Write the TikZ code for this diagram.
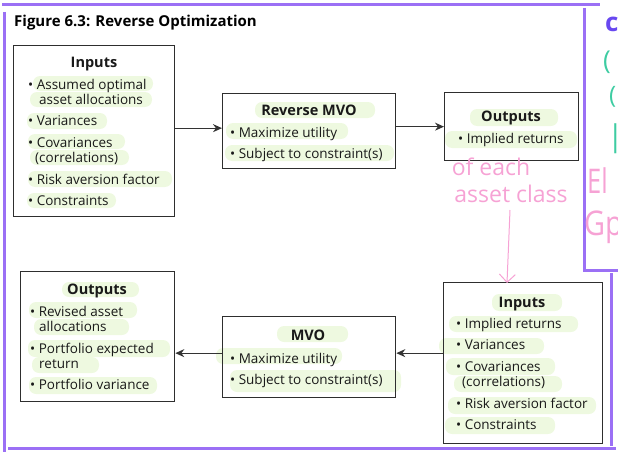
\documentclass[tikz,border=0pt]{standalone}
\usepackage{fontspec}
\setmainfont{Open Sans}
\usetikzlibrary{arrows.meta}
\definecolor{frame-color}{RGB}{155,112,245}
\definecolor{hl-color}{RGB}{238,249,224}
\definecolor{pen-pink}{RGB}{246,162,212}
\definecolor{pen-teal}{RGB}{62,204,162}
\definecolor{pen-blue}{RGB}{104,72,240}
\tikzset{
    frameline/.style = {draw=frame-color, line width=3pt},
    hlbar/.style = {fill=hl-color, rounded corners=7pt},
    box/.style = {draw=black!82, line width=1.3pt, inner sep=0pt, anchor=north west},
    txt/.style = {font=\fontsize{13.5}{15}\selectfont, inner sep=0pt, anchor=base west, text=black!90},
    head/.style = {font=\bfseries\fontsize{14.5}{16}\selectfont, inner sep=0pt, anchor=base, text=black!90},
    flow/.style = {draw=black!80, line width=1.2pt, -{Stealth[length=9pt,width=8pt]}},
    pen/.style = {text=pen-pink, inner sep=0pt},
}

\begin{document}
\begin{tikzpicture}[x=1pt,y=-1pt]
\useasboundingbox (0,0) rectangle (618,452);
\clip (0,0) rectangle (618,452);

% purple frame
\draw[frameline] (2,5) -- (600,5);
\draw[frameline] (4,12) -- (4,452);
\draw[frameline] (584,8) -- (584,270) -- (618,270);
\draw[frameline] (611,273) -- (611,446);
\draw[frameline] (8,448) -- (616,448);

% highlights
\foreach \xa/\ya/\xb/\yb in {33/76/153/91, 30/92/152/107, 27/113/107/129, 28/134/125/149,
    30/150/129/165, 28/171/172/187, 27/193/116/208,
    255/102/375/118, 226/123/348/139, 225/145/394/161,
    470/109/558/126, 445/131/577/148,
    492/294/562/311, 449/316/578/332, 439/338/544/354, 446/358/555/375,
    454/376/562/392, 448/397/596/414, 445/417/555/434,
    277/326/348/342, 216/348/342/364, 230/370/401/392,
    62/282/139/297, 29/302/137/318, 34/319/129/335, 28/340/170/357,
    32/357/99/373, 29/377/157/394}
    \fill[hlbar] (\xa,\ya) rectangle (\xb,\yb);

\node[font=\bfseries\fontsize{15}{17}\selectfont, inner sep=0pt, anchor=base west] (title) at (14,27) {Figure 6.3: Reverse Optimization};

% boxes
\node[box, minimum width=161pt, minimum height=171pt] (inA)  at (13,45)  {};
\node[box, minimum width=173pt, minimum height=75pt]  (rmvo) at (222,93) {};
\node[box, minimum width=134pt, minimum height=68pt]  (outA) at (444,92) {};
\node[box, minimum width=159pt, minimum height=161pt] (inB)  at (443,282) {};
\node[box, minimum width=173pt, minimum height=81pt]  (mvo)  at (222,316) {};
\node[box, minimum width=154pt, minimum height=130pt] (outB) at (20,271) {};

% headings
\node[head] (inA-h)  at (94,67)   {Inputs};
\node[head] (rmvo-h) at (309,115) {Reverse MVO};
\node[head] (outA-h) at (511,121) {Outputs};
\node[head] (inB-h)  at (522,307) {Inputs};
\node[head] (mvo-h)  at (308,340) {MVO};
\node[head] (outB-h) at (97,294)  {Outputs};

% bullet lines
\foreach \n/\x/\y/\t in {inA-1/28/89/\textbullet\ Assumed optimal, inA-2/39/104/asset allocations,
    inA-3/28/125/\textbullet\ Variances, inA-4/28/147/\textbullet\ Covariances,
    inA-5/35/162/(correlations), inA-6/28/184/\textbullet\ Risk aversion factor,
    inA-7/28/205/\textbullet\ Constraints,
    rmvo-1/230/137/\textbullet\ Maximize utility, rmvo-2/230/158/\textbullet\ Subject to constraint(s),
    outA-1/458/143/\textbullet\ Implied returns,
    inB-1/456/328/\textbullet\ Implied returns, inB-2/456/349/\textbullet\ Variances,
    inB-3/456/371/\textbullet\ Covariances, inB-4/462/386/(correlations),
    inB-5/456/408/\textbullet\ Risk aversion factor, inB-6/456/429/\textbullet\ Constraints,
    mvo-1/230/363/\textbullet\ Maximize utility, mvo-2/230/384/\textbullet\ Subject to constraint(s),
    outB-1/30/316/\textbullet\ Revised asset, outB-2/39/331/allocations,
    outB-3/30/353/\textbullet\ Portfolio expected, outB-4/39/368/return,
    outB-5/30/389/\textbullet\ Portfolio variance}
    \node[txt] (\n) at (\x,\y) {\t};

% flow
\draw[flow] ([yshift=3pt]inA.east) -- ([yshift=3pt]rmvo.west);
\draw[flow] (rmvo.east |- outA.west) -- (outA.west);
\coordinate (m5e) at ([yshift=4pt]mvo.east);
\coordinate (m5w) at ([yshift=4pt]mvo.west);
\draw[flow] (inB.west |- m5e) -- (m5e);
\draw[flow] (m5w) -- (outB.east |- m5w);

% handwriting
\node[pen, font=\fontsize{23}{23}\selectfont] (note1) at (491,167) {of each};
\node[pen, font=\fontsize{23}{23}\selectfont] (note2) at (511,194) {asset class};
\coordinate (pen-start) at (510,210);
\coordinate (pen-tip) at (507,283);
\draw[pen-pink, line width=1pt, -{Straight Barb[length=8pt,width=16pt]}] (pen-start) -- (pen-tip);

\node[inner sep=0pt, anchor=west, text=pen-blue, font=\bfseries\fontsize{26}{26}\selectfont] (frag1) at (605,24) {c};
\node[inner sep=0pt, anchor=west, text=pen-teal, font=\fontsize{26}{26}\selectfont] (frag2) at (603,62) {(};
\node[inner sep=0pt, anchor=west, text=pen-teal, font=\fontsize{24}{24}\selectfont] (frag3) at (609,97) {(};
\node[inner sep=0pt, anchor=west, text=pen-teal, font=\fontsize{30}{30}\selectfont] (frag4) at (607,139) {|};
\node[pen, anchor=west, font=\fontsize{34}{34}\selectfont] (frag5) at (587,181) {\scalebox{0.75}[1]{El}};
\node[pen, anchor=west, font=\fontsize{34}{34}\selectfont] (frag6) at (584,227) {\scalebox{0.85}[1]{Gp}};
\end{tikzpicture}
\end{document}
